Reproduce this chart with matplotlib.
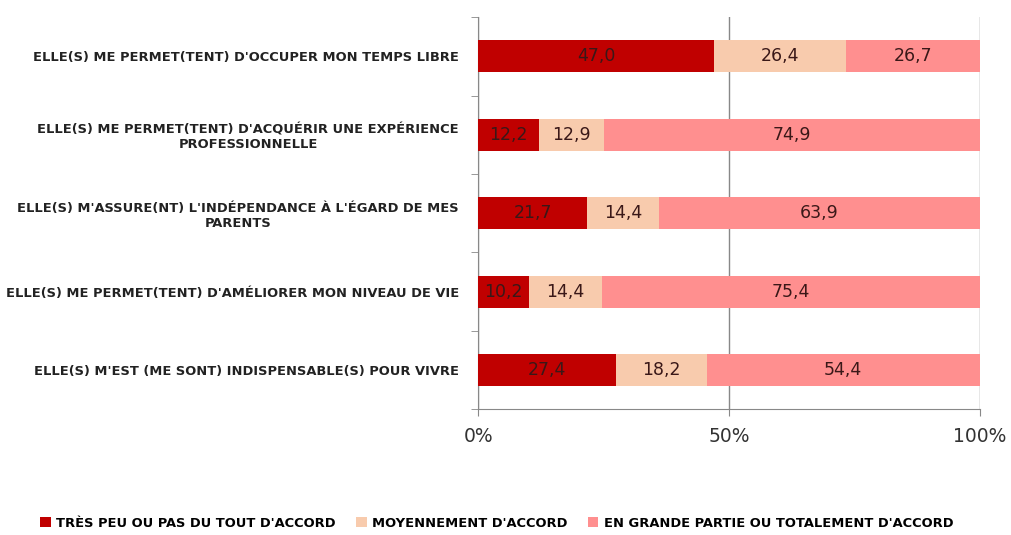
import numpy as np
import matplotlib.pyplot as plt
from matplotlib.patches import Patch

categories = [
    "ELLE(S) ME PERMET(TENT) D'OCCUPER MON TEMPS LIBRE",
    "ELLE(S) ME PERMET(TENT) D'ACQUÉRIR UNE EXPÉRIENCE\nPROFESSIONNELLE",
    "ELLE(S) M'ASSURE(NT) L'INDÉPENDANCE À L'ÉGARD DE MES\nPARENTS",
    "ELLE(S) ME PERMET(TENT) D'AMÉLIORER MON NIVEAU DE VIE",
    "ELLE(S) M'EST (ME SONT) INDISPENSABLE(S) POUR VIVRE",
]
pas_accord = [47.0, 12.2, 21.7, 10.2, 27.4]
moyen = [26.4, 12.9, 14.4, 14.4, 18.2]
grande = [26.7, 74.9, 63.9, 75.4, 54.4]
series_names = ["TRÈS PEU OU PAS DU TOUT D'ACCORD", "MOYENNEMENT D'ACCORD",
                "EN GRANDE PARTIE OU TOTALEMENT D'ACCORD"]
colors = ["#c00000", "#f8cbad", "#ff8f8f"]

fig = plt.figure(figsize=(10.11, 5.35), dpi=100)
ax = fig.add_axes([0.473, 0.235, 0.496, 0.733])

y = np.arange(len(categories))
left = np.zeros(len(categories))
for vals, col in zip([pas_accord, moyen, grande], colors):
    vals = np.array(vals)
    bars = ax.barh(y, vals, left=left, height=0.41, color=col, zorder=3)
    for b, v in zip(bars, vals):
        ax.text(b.get_x() + b.get_width() / 2, b.get_y() + b.get_height() / 2,
                f"{v:.1f}".replace(".", ","), ha='center', va='center',
                fontsize=12.5, color='#3a1818', zorder=4)
    left = left + vals

ax.set_xlim(0, 100)
ax.set_ylim(len(categories) - 0.5, -0.5)
ax.set_xticks([0, 50, 100])
ax.set_xticklabels(["0%", "50%", "100%"], fontsize=13.5, color='#333333')
ax.set_yticks(y)
ax.set_yticklabels(categories, fontsize=9.4, fontweight='bold',
                   color='#222222', multialignment='center')
ax.set_yticks(np.arange(-0.5, len(categories), 1), minor=True)
ax.tick_params(axis='y', which='major', length=0, pad=14)
ax.tick_params(axis='y', which='minor', length=5, color='#888888')
ax.tick_params(axis='x', length=5, color='#888888', pad=8)
ax.xaxis.grid(True, color='#888888', linewidth=1, zorder=0)

for s in ['top', 'right']:
    ax.spines[s].set_visible(False)
for s in ['left', 'bottom']:
    ax.spines[s].set_color('#888888')

handles = [Patch(facecolor=c) for c in colors]
fig.legend(handles, series_names, loc='center left', bbox_to_anchor=(0.028, 0.022),
           ncol=3, frameon=False, handlelength=0.8, handleheight=0.8,
           handletextpad=0.4, columnspacing=1.6,
           prop={'size': 9.4, 'weight': 'bold'})

fig.savefig("out.png", dpi=100)
